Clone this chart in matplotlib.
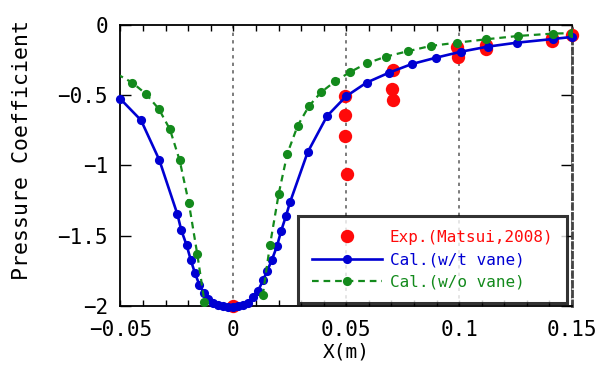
import numpy as np
import matplotlib
matplotlib.use("Agg")
import matplotlib.pyplot as plt
from matplotlib.ticker import MultipleLocator, FuncFormatter

# ---- data ----
exp_x = [0.0, 0.0494, 0.0494, 0.0494, 0.0505, 0.0708, 0.0701, 0.0708,
         0.0989, 0.0996, 0.112, 0.112, 0.141, 0.141, 0.1498]
exp_y = [-2.0, -0.505, -0.64, -0.79, -1.06, -0.32, -0.455, -0.534,
         -0.155, -0.23, -0.145, -0.17, -0.09, -0.115, -0.071]

wt_x = [-0.050, -0.0409, -0.0328, -0.0248, -0.0231, -0.0207, -0.0188, -0.0170,
        -0.0151, -0.0130, -0.0111, -0.0089, -0.0067, -0.0045, -0.0023, 0.0,
        0.0022, 0.0044, 0.0066, 0.0088, 0.0110, 0.0132, 0.0150, 0.0171,
        0.0193, 0.0211, 0.0233, 0.0252, 0.0329, 0.0415, 0.0499, 0.0590,
        0.0690, 0.0790, 0.0897, 0.1008, 0.1127, 0.1255, 0.1414, 0.1500]
wt_y = [-0.527, -0.678, -0.961, -1.347, -1.459, -1.568, -1.676, -1.767,
        -1.848, -1.910, -1.952, -1.980, -1.995, -2.000, -2.006, -2.006,
        -2.000, -1.995, -1.977, -1.935, -1.890, -1.815, -1.750, -1.670,
        -1.575, -1.469, -1.359, -1.257, -0.906, -0.648, -0.508, -0.410,
        -0.339, -0.278, -0.233, -0.190, -0.154, -0.126, -0.100, -0.085]

wo_x = [-0.0515, -0.0448, -0.0387, -0.0330, -0.0281, -0.0238, -0.0197, -0.0160,
        -0.0128, np.nan, 0.0130, 0.0162, 0.0201, 0.0239, 0.0285, 0.0335, 0.0388,
        0.0451, 0.0517, 0.0590, 0.0676, 0.0772, 0.0874, 0.0989, 0.1118,
        0.1261, 0.1417, 0.1500]
wo_y = [-0.35, -0.41, -0.491, -0.598, -0.743, -0.963, -1.269, -1.630,
        -1.972, np.nan, -1.925, -1.568, -1.200, -0.916, -0.716, -0.577, -0.479,
        -0.401, -0.335, -0.273, -0.225, -0.187, -0.149, -0.126, -0.102,
        -0.078, -0.061, -0.058]

xticks = [-0.05, 0.0, 0.05, 0.1, 0.15]
yticks = [-2.0, -1.5, -1.0, -0.5, 0.0]

RED = "#ff0a0a"
BLUE = "#0000d2"
GREEN = "#138a1c"
MONO = ["DejaVu Sans Mono"]

fig = plt.figure(figsize=(5.98, 3.76), dpi=100)
ax = fig.add_axes([0.2015, 0.1862, 0.7550, 0.7473])

ax.set_xlim(-0.05, 0.15)
ax.set_ylim(-2.0, 0.0)

for xv in xticks[1:]:
    ax.axvline(xv, color="#666666", linestyle=(0, (2, 2.5)), lw=1.2, zorder=1)

ax.plot(exp_x, exp_y, "o", color=RED, ms=9.6, mew=0, zorder=3, clip_on=False,
        label="Exp.(Matsui,2008)")
ax.plot(wt_x, wt_y, "-o", color=BLUE, lw=1.9, ms=6.6, mew=0, zorder=4,
        clip_on=False, label="Cal.(w/t vane)")
mask = [not (xx < -0.05) for xx in wo_x]
ax.plot(wo_x, wo_y, "--o", color=GREEN, lw=1.6, ms=6.6, mew=0, zorder=5,
        dashes=(3, 2.2), markevery=[i for i, m in enumerate(mask) if m],
        label="Cal.(w/o vane)")

ax.set_xticks(xticks)
ax.set_yticks(yticks)
ax.xaxis.set_minor_locator(MultipleLocator(0.01))

def fmt(v, pos):
    if abs(v) < 1e-9:
        return "0"
    s = ("%.2f" % v).rstrip("0").rstrip(".")
    return s.replace("-", "\u2212")

ax.xaxis.set_major_formatter(FuncFormatter(fmt))
ax.yaxis.set_major_formatter(FuncFormatter(fmt))

ax.tick_params(axis="x", which="both", direction="in", top=True, bottom=True,
               length=4.5, width=1, pad=10, labelsize=15)
ax.tick_params(axis="y", which="major", direction="in", left=True, right=True,
               length=8, width=1, pad=9, labelsize=15)
for lab in ax.get_xticklabels() + ax.get_yticklabels():
    lab.set_family(MONO)

for s in ["left", "top", "bottom"]:
    ax.spines[s].set_linewidth(1.3)
    ax.spines[s].set_color("black")
ax.spines["right"].set_linewidth(2.0)
ax.spines["right"].set_color("#444444")
ax.spines["right"].set_linestyle((0, (2, 1.5)))

ax.set_xlabel("X(m)", family=MONO, fontsize=14, labelpad=2)
ax.set_ylabel("Pressure Coefficient", family=MONO, fontsize=15.5)
ax.yaxis.set_label_coords(-0.197, 0.555)

leg = ax.legend(loc="lower right", bbox_to_anchor=(0.989, 0.011),
                prop={"family": MONO, "size": 11.5}, frameon=True,
                fancybox=False, shadow=False, borderaxespad=0,
                handlelength=4.4, handletextpad=0.5, labelspacing=0.45,
                borderpad=0.85)
leg.get_frame().set_edgecolor("black")
leg.get_frame().set_linewidth(2.2)
leg.set_zorder(10)
for txt, c in zip(leg.get_texts(), [RED, BLUE, GREEN]):
    txt.set_color(c)

fig.savefig("out.png", dpi=100)
